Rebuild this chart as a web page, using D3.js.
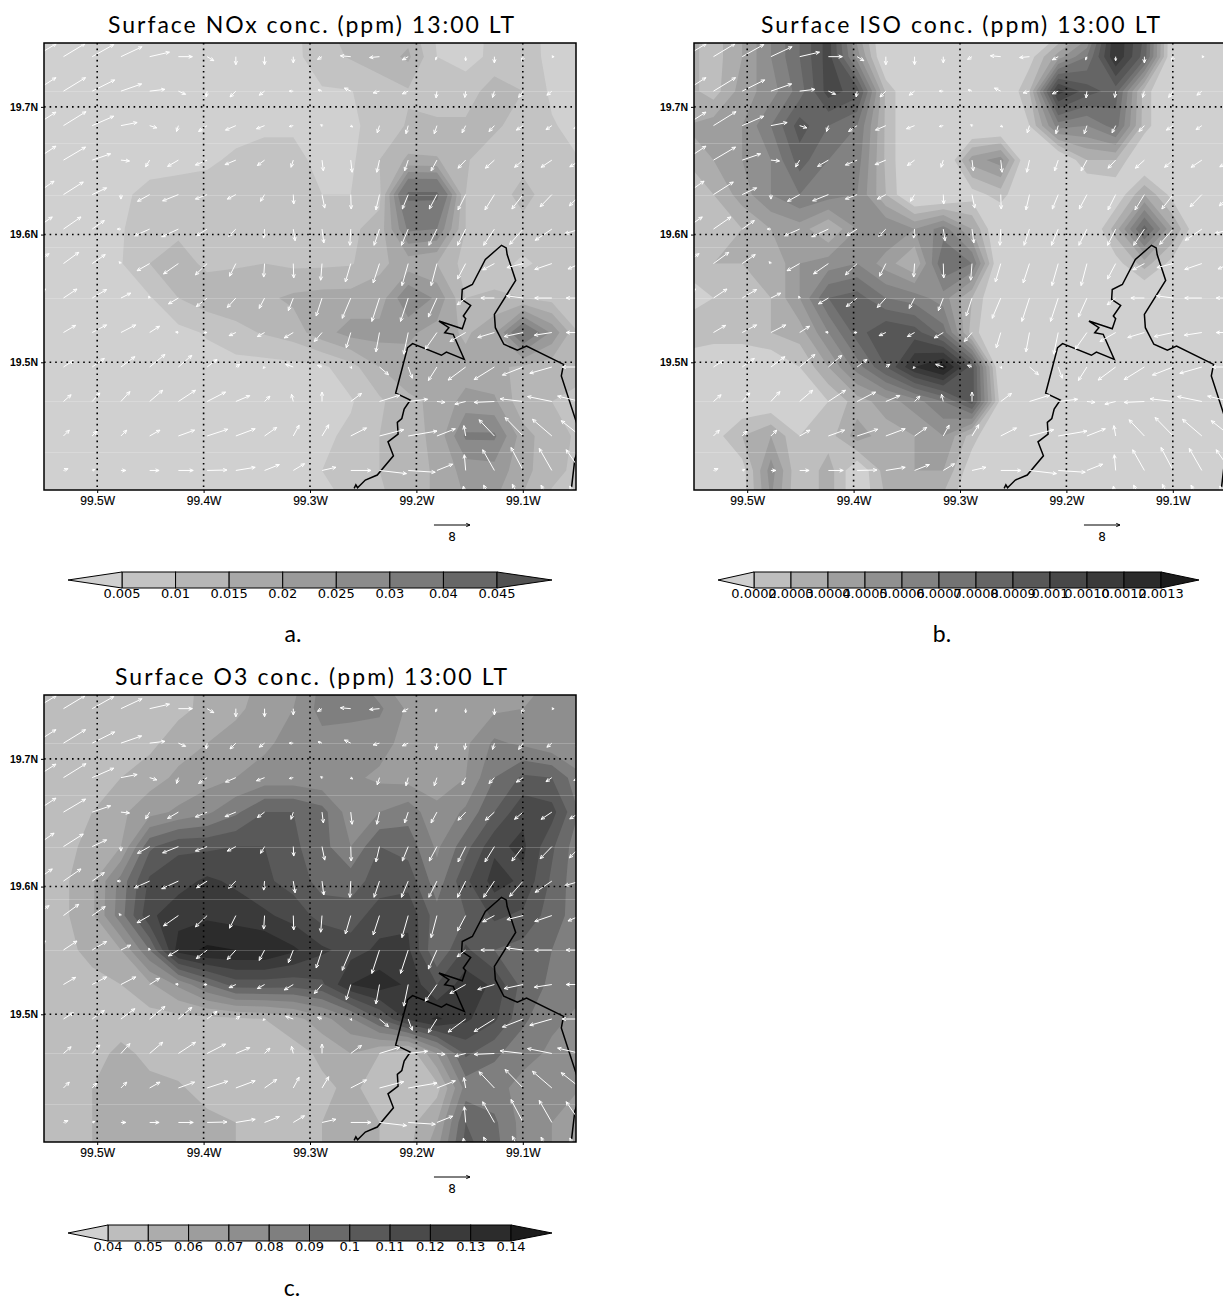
<!DOCTYPE html>
<html>
<head>
<meta charset="utf-8">
<script src="https://cdn.jsdelivr.net/npm/d3@7"></script>
<style>
html, body { margin: 0; padding: 0; background: #fff; overflow: hidden; }
svg { display: block; }
</style>
</head>
<body>
<div id="chart"></div>
<script>
// model grid, same for wind and concentration (about 3 km)
var gridLon0 = -99.5587, gridLat0 = 19.7663, gridStep = 0.027, gridCols = 20, gridRows = 15;

// surface NOx, ppb, north to south
var noxRows = [
[3,3,3,3,3,3,3,3,3,3.5,9,13,11,12,4,3,6,7,3.5,3],
[3,3,3,3,3,3,3,3,3,3.5,8,10.5,12.5,16,5,3.5,6,7.5,3.5,3],
[3,3,3,3,3,3,3,3,3,4,4.5,4.8,7.5,9.5,7,7,13,10,4,3],
[3,3,3,3,3,3,3,3,4,4.5,4,4,7,10.5,11,11,11,7.5,5.5,3],
[3,3,3,3,3,3.5,4,6,7,6,4,4,10,16,15.5,10.5,7,8,6,5],
[3,3,3,4,6.5,7,7.5,7,7,7,5,5,8.5,42,42,10,7,12,7,6],
[3,3,3,4.7,7,9,8,8,8,8,8,9,12,31,30,10,7,8,6,5.5],
[3,3,3,4.7,10,12,9,9.5,10,9,9,9.5,14,17,15,8,7,4,7,7],
[3,3,3,3,4.5,10,13,13,14,16,17,17,17,30,24,10,11,10,8,8.5],
[3,3,3,3,3,3.5,5.5,8.5,10.5,12.5,18,22,22,21,18,14,19,38,24,9],
[3,3,3,3,3,3,3,3,3,3.5,4,8,15,18,17,17,16,14,12,11],
[3,3,3,3,3,3,3,3,3,3,3.5,4.5,9,14,16,22,21,11.5,10,9],
[3,3,3,3,3,3,3,3,3,3,4,6,10,13.5,16,31,31,17,12,9],
[3,3,3,3,3,3,3,3,3,4,5,8,10,12,16,22,23,17,11,9],
[3,3,3,3,3,3,3,3,3,3,3.5,5.5,9,12,16,20,20,14,9,8]
];

// surface isoprene, ppb
var isoRows = [
[.35,.25,.4,.6,.8,1.05,.4,.04,.25,.3,.25,.04,.04,.04,.3,1.2,.9,.04,.04,.04],
[.35,.25,.4,.6,.8,1.05,.55,.04,.04,.04,.04,.04,.15,.45,.7,1.2,.85,.04,.04,.04],
[.35,.25,.45,.55,.75,1.05,.95,.28,.04,.04,.04,.04,.3,1.15,.95,.85,.25,.04,.04,.04],
[.4,.45,.5,.7,.95,.8,.7,.28,.04,.04,.04,.04,.2,.65,.6,.75,.25,.04,.04,.04],
[.3,.4,.5,.6,.85,.7,.65,.28,.04,.04,.45,.55,.04,.04,.3,.3,.04,.04,.04,.04],
[.25,.3,.45,.6,.7,.65,.6,.3,.04,.04,.15,.25,.04,.04,.04,.1,.4,.15,.04,.04],
[.3,.25,.3,.4,.45,.3,.5,.6,.5,.65,.4,.04,.04,.04,.04,.35,.85,.4,.04,.04],
[.25,.3,.3,.3,.5,.55,.6,.45,.3,.8,.7,.04,.04,.04,.04,.15,.35,.15,.04,.04],
[.1,.2,.25,.3,.5,.8,.85,.7,.65,.55,.3,.04,.04,.04,.04,.04,.04,.04,.04,.04],
[.3,.25,.25,.3,.35,.6,.85,1,.95,.75,.25,.04,.04,.04,.04,.04,.04,.04,.04,.04],
[.1,.1,.1,.1,.2,.4,.65,.9,1.2,1.35,.95,.04,.04,.04,.04,.04,.04,.04,.04,.04],
[.1,.1,.1,.1,.1,.2,.35,.45,.55,.7,.95,.15,.04,.04,.04,.04,.04,.04,.04,.04],
[.15,.15,.3,.4,.2,.25,.45,.35,.4,.5,.25,.04,.04,.04,.04,.04,.04,.04,.04,.04],
[.1,.1,.15,.55,.2,.35,.1,.35,.4,.4,.12,.04,.04,.04,.04,.04,.04,.04,.04,.04],
[.1,.1,.15,.5,.2,.35,.1,.3,.35,.25,.1,.04,.04,.04,.04,.04,.04,.04,.04,.04]
];

// surface ozone, ppb
var o3Rows = [
[44,44,44,44,45,47,52,55,62,65,82,82,70,62,60,62,66,68,70,70],
[44,44,44,44,45,47,53,58,64,70,84,84,82,68,62,65,68,70,70,72],
[44,44,44,45,47,56,60,64,68,74,76,74,74,66,62,68,82,78,72,70],
[44,44,45,50,56,62,66,70,74,74,72,72,68,66,66,70,90,102,100,82],
[44,46,50,58,66,72,78,88,100,100,94,74,80,86,72,82,100,118,114,88],
[45,48,52,60,98,108,108,110,110,102,94,80,100,96,78,96,118,122,102,82],
[46,48,58,84,112,116,122,118,112,106,96,96,104,106,84,108,124,118,98,82],
[46,48,58,86,118,126,128,126,122,116,106,104,116,118,94,100,112,108,95,84],
[46,48,52,60,90,135,142,140,140,132,122,116,122,122,90,112,100,96,90,82],
[46,46,48,50,58,72,90,105,105,104,108,130,136,128,110,126,118,96,88,82],
[46,46,47,46,46,46,47,48,50,56,66,78,100,122,132,122,112,92,82,78],
[47,46,47,52,48,46,45,45,46,46,52,60,50,42,70,102,92,84,78,74],
[48,46,50,54,52,51,47,46,48,50,48,52,46,40,46,84,84,76,72,70],
[44,46,50,54,53,52,52,50,46,46,50,50,50,46,60,100,92,76,70,66],
[44,46,50,54,54,54,54,50,46,48,50,50,50,48,70,105,95,76,70,66]
];

// 10 m wind, m/s, rows 2 to 15 of the grid
var windU = [
[4.8,4.8,4.8,4.7,4.4,3.1,1.5,0,0,0,-1,-2.3,-2.2,-1.3,-.3,0,0,-.2,.5,0],
[4.7,4.9,5,4.6,3.4,1.6,-.2,-1.3,-1.2,-.9,-.9,-1.4,-1.4,-1.3,-.2,-.2,-.4,-1,-1.1,-1],
[4.7,5,4.8,3.6,1.6,-.4,-1.9,-2.3,-1.8,-.9,-.3,.4,-.5,-.5,-.6,-.8,-1.2,-1.5,-1.3,-1.5],
[4.7,4.9,4.1,1.9,-.9,-2.4,-2.6,-2.4,-1.6,-.5,.3,.3,-.6,-.8,-1.3,-1.7,-2,-1.9,-2.4,-2.4],
[4.3,4.4,3.2,0,-2.7,-3.5,-2.6,-1.9,-.9,.1,.6,.1,-.8,-1.3,-1.7,-1.7,-2.1,-2.5,-2.6,-2.5],
[3.9,3.9,2.7,-.8,-3.4,-3.7,-2.4,-1.6,-.2,.4,.4,-.2,-1.2,-1.5,-1.8,-1.8,-2.4,-3,-3.7,-3.5],
[3.2,3.4,2.9,-.4,-2.8,-3.3,-2.6,-1.4,-.2,.1,-.3,-1.2,-1.4,-1.4,-1.3,-1.8,-2.6,-3.6,-3.8,-2.8],
[2.4,3,3.2,2.2,-.2,-2.2,-2.4,-1.9,-1.2,-1.1,-1.3,-1.9,-1.7,-1.7,-1.9,-1.9,-3,-3.7,-3.8,-3.2],
[2,2.7,3.2,3.3,2.2,-.6,-.7,-1.5,-1.6,-2,-1.7,-1,-.8,-1,-2.6,-3.5,-3.7,-4.2,-3.9,-3.2],
[1.8,2.2,2.7,3.1,3.4,3,2.2,.9,-.3,-1.7,-1,.2,2,.9,-1.9,-3.9,-4.5,-4.6,-4.9,-4.1],
[1.5,1.7,1.7,2,2.9,3.8,4.1,3.1,1.2,-.4,0,2.4,4.5,4.3,1.8,-2.4,-4.5,-5.1,-5.4,-5.1],
[.8,1.3,1,1.3,2.3,3.6,4.6,4.3,2.7,1.3,1.5,3.5,5.4,6.4,4.1,-.4,-3.4,-4,-4.3,-4.3],
[.6,1,.6,1.1,2.1,3.3,4.4,4.3,3.3,2.5,3.1,4.5,6,6,3.5,-.3,-2.6,-2.7,-2.8,-3.2],
[.5,.5,.5,.5,1,2,2,3,2,2,2,3,4,4,3,-.5,-2.4,-2.4,-2.4,-2.4]
];
var windV = [
[2.9,2.9,2.7,2.2,1,0,-.9,-1.8,-1.8,-1.4,-.6,.2,-.2,-.7,-.7,-.9,-1.4,-1.1,0,0],
[3,3,2.5,1.6,.4,-.7,-1.3,-1.3,-.9,0,.3,.7,-.4,-.6,-1.5,-1.4,-1.4,-1.4,-.9,-.8],
[3,3.1,2.1,.7,-.5,-1.3,-1.3,-1,-.7,-.2,.2,-.3,-1.6,-1.8,-1.8,-1.6,-1.3,-1,-.9,-.6],
[3.1,2.9,1.4,-.2,-1.5,-1.4,-1.1,-1,-1.2,-1.6,-2.4,-2.7,-2.7,-2.4,-2.4,-1.8,-1.8,-1.6,-1.6,-1.5],
[3,2.8,1.5,-1,-1.5,-1.4,-1,-1,-1.5,-2.1,-3,-3.2,-3.4,-3.2,-3.2,-3.4,-3.4,-3.2,-2.7,-2.5],
[2.7,2.7,1.9,0,-1.5,-1.7,-1.5,-1.6,-2,-2.6,-3.1,-3.6,-3.6,-3.6,-3.6,-3.6,-3.6,-3.4,-2.5,-1],
[2.2,2.5,2,.4,-1.6,-2.3,-2.5,-2.8,-3,-3.2,-3.7,-4.1,-4.3,-4.9,-4.9,-3.4,-1.4,-.9,-1.3,-1.2],
[2,2,1.9,1.1,.4,-1.3,-1.9,-2.1,-2.3,-2.8,-4,-4.5,-5.2,-5.2,-4.2,-1.5,0,.5,0,0],
[1.5,1.6,1.7,1.7,1.4,.1,0,-.7,-.9,-1.2,-2,-3.4,-4.3,-4.8,-3.7,-2,-1.1,-.9,-.6,0],
[1.2,1.4,1.9,2.3,2.8,2.6,1.7,.6,-.3,.6,.4,-.3,-1.7,-2.5,-3,-2.9,-2.8,-1.8,-1.4,0],
[1.5,1.5,1.9,2.2,2.5,2.5,2.1,1.3,1.2,1.6,2.1,1.8,1.4,.5,-.2,-.6,-.2,.6,1.1,1.2],
[1.1,1.3,1.1,1.3,1.3,1.3,1.5,1.6,1.9,2.4,2.5,1.8,1.4,1.1,1.6,2.3,3.6,4.1,3.7,3.4],
[.2,.4,.2,0,0,0,.1,.7,1.3,1.5,.7,0,-.7,-.4,1.4,3.5,4.6,5.1,4.9,4.6],
[0,0,0,0,0,0,0,0,.5,.5,0,0,0,0,1,4.2,4.4,4.6,4.4,4.2]
];

// state boundary
var coastLon = [-99.2585,-99.2569,-99.2553,-99.248,-99.2368,-99.2216,-99.2267,-99.2172,-99.2179,-99.2137,-99.2115,-99.2057,-99.2195,-99.2083,-99.2036,-99.1765,-99.1718,-99.155,-99.1654,-99.1734,-99.1695,-99.1788,-99.1569,-99.1537,-99.1559,-99.149,-99.1575,-99.1569,-99.1474,-99.1352,-99.12,-99.1156,-99.1147,-99.1067,-99.1267,-99.1258,-99.1178,-99.1051,-99.0965,-99.0617,-99.0638,-99.047];
var coastLat = [19.4013,19.4041,19.4018,19.4078,19.4117,19.4268,19.4377,19.4437,19.4529,19.456,19.4633,19.4705,19.4758,19.5115,19.5146,19.5055,19.508,19.5023,19.5219,19.5232,19.5271,19.5323,19.5263,19.5341,19.5362,19.5445,19.5492,19.557,19.5609,19.5805,19.5916,19.5896,19.5844,19.5641,19.5375,19.5271,19.5141,19.5094,19.5127,19.4984,19.4893,19.4463];
var coast2Lon = [-99.047,-99.0511,-99.0543];
var coast2Lat = [19.4334,19.4242,19.4013];

var lonTicks = [-99.5,-99.4,-99.3,-99.2,-99.1];
var latTicks = [19.7,19.6,19.5];
// faint lines left in the picture by the image resampling
var seamLats = [19.7125,19.6719,19.6313,19.5906,19.5504,19.4699,19.4297];

var noxLabels = ["0.005","0.01","0.015","0.02","0.025","0.03","0.04","0.045"];
var isoLabels = ["0.0002","0.0003","0.0004","0.0005","0.0006","0.0007","0.0008","0.0009","0.001","0.0010","0.0012","0.0013"];
var o3Labels = ["0.04","0.05","0.06","0.07","0.08","0.09","0.1","0.11","0.12","0.13","0.14"];

// contour levels in ppb; the 0.0010 label on the ISO bar is really 0.0011
var noxLevels = [5,10,15,20,25,30,40,45];
var isoLevels = [.2,.3,.4,.5,.6,.7,.8,.9,1,1.1,1.2,1.3];
var o3Levels = [40,50,60,70,80,90,100,110,120,130,140];

var noxGreys = ["#d0d0d0","#c3c3c3","#b6b6b6","#a8a8a8","#9a9a9a","#8b8b8b","#7a7a7a","#676767","#525252"];
var isoGreys = ["#d0d0d0","#bebebe","#adadad","#9e9e9e","#909090","#828282","#737373","#656565","#575757","#484848","#3a3a3a","#2b2b2b","#1c1c1c"];
var o3Greys = ["#d0d0d0","#bdbdbd","#acacac","#9d9d9d","#8e8e8e","#7f7f7f","#6a6a6a","#595959","#4a4a4a","#3a3a3a","#2c2c2c","#1c1c1c"];

var panels = [
  {name: "nox", title: "Surface NOx conc. (ppm) 13:00 LT", titleX: [108, 514], tag: "a.", tagX: 293, tagY: 642, left: 44, top: 43,
   rows: noxRows, levels: noxLevels, greys: noxGreys, labels: noxLabels, barTips: [68, 552], barEnds: [122, 497], barY: 572},
  {name: "iso", title: "Surface ISO conc. (ppm) 13:00 LT", titleX: [761, 1160], tag: "b.", tagX: 942, tagY: 642, left: 694, top: 43,
   rows: isoRows, levels: isoLevels, greys: isoGreys, labels: isoLabels, barTips: [718, 1199], barEnds: [754, 1161], barY: 572},
  {name: "o3", title: "Surface O3 conc. (ppm) 13:00 LT", titleX: [115, 507], tag: "c.", tagX: 292, tagY: 1296, left: 44, top: 695,
   rows: o3Rows, levels: o3Levels, greys: o3Greys, labels: o3Labels, barTips: [68, 552], barEnds: [108, 511], barY: 1225}
];

var mapW = 532, mapH = 447, barH = 16;
var axisFont = "'Liberation Sans', Arial, sans-serif";
var wideFont = "'DejaVu Sans', sans-serif";

var svg = d3.select("#chart").append("svg")
  .attr("width", 1223)
  .attr("height", 1300);

// 36 px = 8 m/s, same for all panels
var windScale = d3.scaleLinear().domain([0, 8]).range([0, 36]);

function arrowPath(x0, y0, x1, y1, barb) {
  var a = Math.atan2(y1 - y0, x1 - x0), s = 0.42;
  return "M" + x0 + "," + y0 + "L" + x1 + "," + y1 +
    "M" + (x1 - barb * Math.cos(a - s)) + "," + (y1 - barb * Math.sin(a - s)) +
    "L" + x1 + "," + y1 +
    "L" + (x1 - barb * Math.cos(a + s)) + "," + (y1 - barb * Math.sin(a + s));
}

panels.forEach(function(p) {
  var x = d3.scaleLinear().domain([-99.55, -99.05]).range([p.left, p.left + mapW]);
  var y = d3.scaleLinear().domain([19.75, 19.4]).range([p.top, p.top + mapH]);
  var g = svg.append("g").attr("class", p.name);

  svg.append("clipPath").attr("id", "clip-" + p.name)
    .append("rect").attr("x", p.left).attr("y", p.top).attr("width", mapW).attr("height", mapH);

  var map = g.append("g").attr("clip-path", "url(#clip-" + p.name + ")");

  map.append("rect")
    .attr("x", p.left).attr("y", p.top).attr("width", mapW).attr("height", mapH)
    .attr("fill", p.greys[0]);

  // filled contours, lowest band first. d3.contours puts value i at i + 0.5
  var toMap = d3.geoPath(d3.geoTransform({
    point: function(px, py) {
      this.stream.point(x(gridLon0 + (px - 0.5) * gridStep), y(gridLat0 - (py - 0.5) * gridStep));
    }
  }));
  var bands = d3.contours().size([gridCols, gridRows]).thresholds(p.levels)(d3.merge(p.rows));
  map.selectAll("path.band")
    .data(bands)
    .enter().append("path").attr("class", "band")
    .attr("d", toMap)
    .attr("fill", function(d, i) { return p.greys[i + 1]; });

  map.selectAll("line.seam")
    .data(seamLats)
    .enter().append("line").attr("class", "seam")
    .attr("x1", p.left).attr("x2", p.left + mapW)
    .attr("y1", function(d) { return Math.round(y(d)) + 0.5; })
    .attr("y2", function(d) { return Math.round(y(d)) + 0.5; })
    .attr("stroke", "#fff").attr("stroke-opacity", 0.2);

  // boundary
  var line = d3.line().x(function(d) { return x(d[0]); }).y(function(d) { return y(d[1]); });
  [d3.zip(coastLon, coastLat), d3.zip(coast2Lon, coast2Lat)].forEach(function(c) {
    map.append("path").attr("d", line(c))
      .attr("fill", "none").attr("stroke", "#000").attr("stroke-width", 1.5);
  });

  // wind arrows, tail on the grid point
  var winds = [];
  windU.forEach(function(row, j) {
    row.forEach(function(u, k) {
      winds.push({lon: gridLon0 + k * gridStep, lat: gridLat0 - (j + 1) * gridStep, u: u, v: windV[j][k]});
    });
  });
  map.selectAll("path.wind")
    .data(winds)
    .enter().append("path").attr("class", "wind")
    .attr("d", function(d) {
      var x0 = x(d.lon), y0 = y(d.lat);
      var speed = Math.sqrt(d.u * d.u + d.v * d.v);
      return arrowPath(x0, y0, x0 + windScale(d.u), y0 - windScale(d.v), speed < 1 ? 2.5 : 4);
    })
    .attr("fill", "none").attr("stroke", "#fff").attr("stroke-width", 1);

  // dotted lat/lon lines
  map.selectAll("line.grid-x")
    .data(lonTicks)
    .enter().append("line").attr("class", "grid-x")
    .attr("x1", function(d) { return x(d); }).attr("x2", function(d) { return x(d); })
    .attr("y1", p.top).attr("y2", p.top + mapH);
  map.selectAll("line.grid-y")
    .data(latTicks)
    .enter().append("line").attr("class", "grid-y")
    .attr("y1", function(d) { return y(d); }).attr("y2", function(d) { return y(d); })
    .attr("x1", p.left).attr("x2", p.left + mapW);
  map.selectAll("line.grid-x, line.grid-y")
    .attr("stroke", "#000").attr("stroke-width", 1.6).attr("stroke-dasharray", "1.6 4");

  g.append("rect")
    .attr("x", p.left).attr("y", p.top).attr("width", mapW).attr("height", mapH)
    .attr("fill", "none").attr("stroke", "#000").attr("stroke-width", 1.5);

  // axes
  var xAxis = d3.axisBottom(x).tickValues(lonTicks).tickSize(3).tickPadding(3)
    .tickFormat(function(d) { return Math.abs(d).toFixed(1) + "W"; });
  var yAxis = d3.axisLeft(y).tickValues(latTicks).tickSize(3).tickPadding(3)
    .tickFormat(function(d) { return d.toFixed(1) + "N"; });
  var xg = g.append("g").attr("transform", "translate(0," + (p.top + mapH) + ")").call(xAxis);
  var yg = g.append("g").attr("transform", "translate(" + p.left + ",0)").call(yAxis);
  xg.select(".domain").remove();
  yg.select(".domain").remove();
  xg.selectAll("text").attr("font-family", axisFont).attr("font-size", 12).attr("fill", "#000")
    .attr("stroke", "#000").attr("stroke-width", 0.15);
  yg.selectAll("text").attr("font-family", axisFont).attr("font-size", 10.5).attr("font-weight", "bold").attr("fill", "#000");

  // title and panel letter
  g.append("text")
    .attr("x", p.titleX[0]).attr("y", p.top - 10)
    .attr("textLength", p.titleX[1] - p.titleX[0]).attr("lengthAdjust", "spacing")
    .attr("font-family", "Lato, sans-serif").attr("font-size", 23)
    .attr("fill", "#000")
    .text(p.title);
  g.append("text")
    .attr("x", p.tagX).attr("y", p.tagY).attr("text-anchor", "middle")
    .attr("font-family", "Lato, sans-serif").attr("font-size", 23).attr("fill", "#000")
    .text(p.tag);

  // 8 m/s key
  var keyX = x(-99.1835), keyY = p.top + mapH + 35;
  g.append("path")
    .attr("d", arrowPath(keyX, keyY, keyX + windScale(8), keyY, 4))
    .attr("fill", "none").attr("stroke", "#000").attr("stroke-width", 1);
  g.append("text")
    .attr("x", keyX + windScale(4)).attr("y", keyY + 16).attr("text-anchor", "middle")
    .attr("font-family", wideFont).attr("font-size", 12).attr("fill", "#000")
    .text("8");

  // colour bar
  var bar = d3.scalePoint().domain(p.labels).range(p.barEnds);
  var pts = p.labels.map(function(d) { return bar(d); });
  var barY = p.barY, mid = barY + barH / 2;
  g.selectAll("rect.box")
    .data(pts.slice(1))
    .enter().append("rect").attr("class", "box")
    .attr("x", function(d, i) { return pts[i]; })
    .attr("width", function(d, i) { return d - pts[i]; })
    .attr("y", barY).attr("height", barH)
    .attr("fill", function(d, i) { return p.greys[i + 1]; })
    .attr("stroke", "#000").attr("stroke-width", 1);
  g.append("path")
    .attr("d", "M" + pts[0] + "," + barY + "L" + p.barTips[0] + "," + mid + "L" + pts[0] + "," + (barY + barH) + "Z")
    .attr("fill", p.greys[0]).attr("stroke", "#000").attr("stroke-width", 1);
  g.append("path")
    .attr("d", "M" + pts[pts.length - 1] + "," + barY + "L" + p.barTips[1] + "," + mid + "L" + pts[pts.length - 1] + "," + (barY + barH) + "Z")
    .attr("fill", p.greys[p.greys.length - 1]).attr("stroke", "#000").attr("stroke-width", 1);
  g.selectAll("text.barlabel")
    .data(p.labels)
    .enter().append("text").attr("class", "barlabel")
    .attr("x", function(d) { return bar(d); })
    .attr("y", barY + barH + 10)
    .attr("text-anchor", "middle")
    .attr("font-family", wideFont).attr("font-size", 13).attr("fill", "#000")
    .text(function(d) { return d; });
});
</script>
</body>
</html>
